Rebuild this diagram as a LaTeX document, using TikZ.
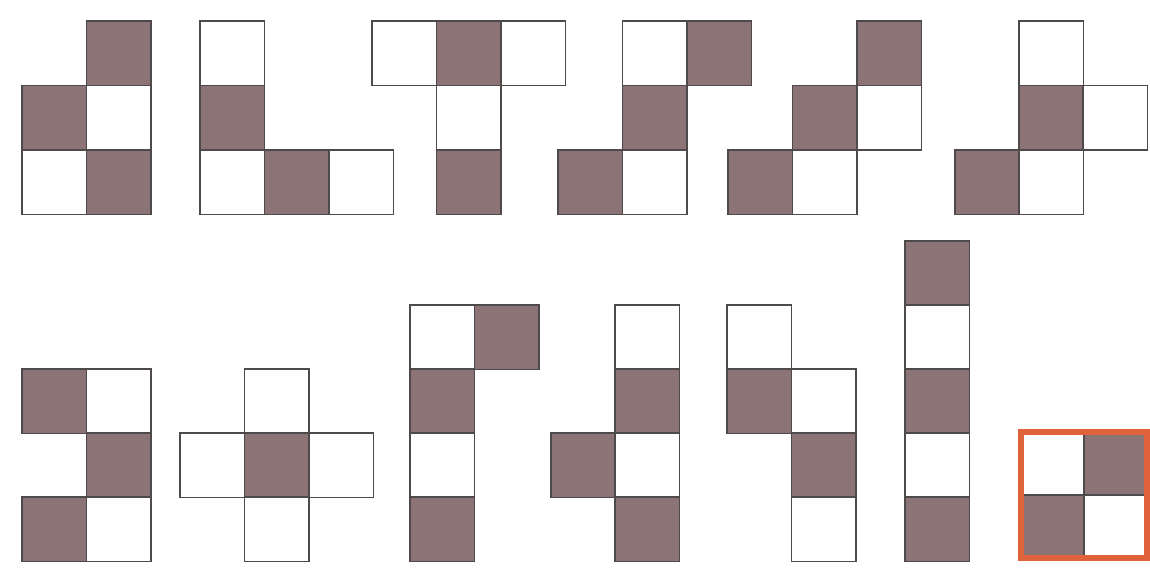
\documentclass[tikz,border=0pt]{standalone}
\usetikzlibrary{positioning}
\definecolor{NetMauve}{HTML}{8C7376}
\definecolor{EdgeGray}{HTML}{4E4A4B}
\definecolor{MarkOrange}{HTML}{E0623A}

\begin{document}
\begin{tikzpicture}[x=1pt,y=-1pt,
      cell/.style={draw=EdgeGray,line width=1.6pt,minimum size=64.5pt,
                   inner sep=0pt,outer sep=0pt,anchor=north west},
      dark/.style={cell,fill=NetMauve},
      light/.style={cell,fill=white},
      markframe/.style={draw=MarkOrange,line width=6pt},
    ]
    \useasboundingbox (0,0) rectangle (1150,567);
    % Top row
    \foreach \i/\j/\c in {1/0/dark,0/1/dark,1/1/light,0/2/light,1/2/dark}
      \node[\c] (a1-\i-\j) at ({22+\i*64.5},{21+\j*64.5}) {};
    \foreach \i/\j/\c in {0/0/light,0/1/dark,0/2/light,1/2/dark,2/2/light}
      \node[\c] (a2-\i-\j) at ({200+\i*64.5},{21+\j*64.5}) {};
    \foreach \i/\j/\c in {0/0/light,1/0/dark,2/0/light,1/1/light,1/2/dark}
      \node[\c] (a3-\i-\j) at ({372+\i*64.5},{21+\j*64.5}) {};
    \foreach \i/\j/\c in {1/0/light,2/0/dark,1/1/dark,0/2/dark,1/2/light}
      \node[\c] (a4-\i-\j) at ({558+\i*64.5},{21+\j*64.5}) {};
    \foreach \i/\j/\c in {2/0/dark,1/1/dark,2/1/light,0/2/dark,1/2/light}
      \node[\c] (a5-\i-\j) at ({728+\i*64.5},{21+\j*64.5}) {};
    \foreach \i/\j/\c in {1/0/light,1/1/dark,2/1/light,0/2/dark,1/2/light}
      \node[\c] (a6-\i-\j) at ({955+\i*64}, {21+\j*64.5}) {};
    % Bottom row
    \foreach \i/\j/\c in {0/2/dark,1/2/light,1/3/dark,0/4/dark,1/4/light}
      \node[\c] (b1-\i-\j) at ({22+\i*64.5},{241+\j*64}) {};
    \foreach \i/\j/\c in {1/2/light,0/3/light,1/3/dark,2/3/light,1/4/light}
      \node[\c] (b2-\i-\j) at ({180+\i*64.5},{241+\j*64}) {};
    \foreach \i/\j/\c in {0/1/light,1/1/dark,0/2/dark,0/3/light,0/4/dark}
      \node[\c] (b3-\i-\j) at ({410+\i*64.5},{241+\j*64}) {};
    \foreach \i/\j/\c in {1/1/light,1/2/dark,0/3/dark,1/3/light,1/4/dark}
      \node[\c] (b4-\i-\j) at ({551+\i*64},{241+\j*64}) {};
    \foreach \i/\j/\c in {0/1/light,0/2/dark,1/2/light,1/3/dark,1/4/light}
      \node[\c] (b5-\i-\j) at ({727+\i*64.5},{241+\j*64}) {};
    \foreach \j/\c in {0/dark,1/light,2/dark,3/light,4/dark}
      \node[\c] (b6-0-\j) at (905,{241+\j*64}) {};
    % Marked square
    \foreach \i/\j/\c in {0/0/light,1/0/dark,0/1/dark,1/1/light}
      \node[\c,minimum size=63pt] (b7-\i-\j) at ({1021+\i*63},{432+\j*63}) {};
    \draw[markframe] (b7-0-0.north west) rectangle (b7-1-1.south east);
  \end{tikzpicture}
\end{document}
